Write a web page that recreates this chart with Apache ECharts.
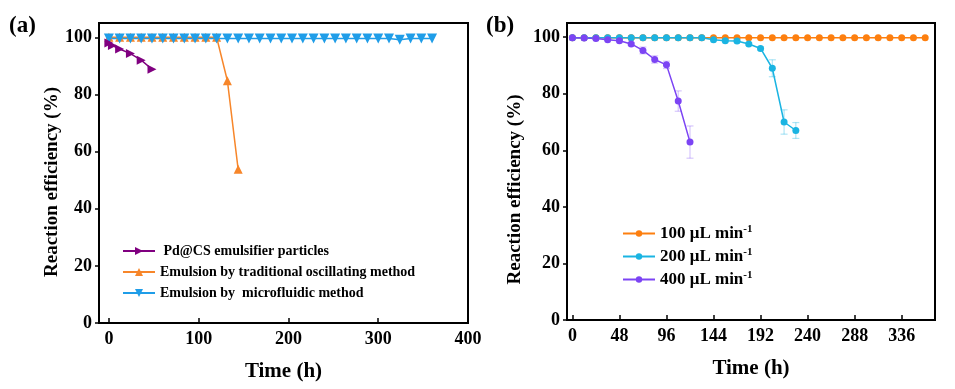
<!DOCTYPE html>
<html>
<head>
<meta charset="utf-8">
<script src="https://cdn.jsdelivr.net/npm/echarts@6/dist/echarts.min.js"></script>
<style>html,body{margin:0;padding:0;background:#fff}#c{width:955px;height:389px}</style>
</head>
<body>
<div id="c"></div>
<script>
// ---- Panel (a) data ----
const timePd = [0, 4, 12, 24, 36, 48];
const valPd = [98.0, 97.1, 95.9, 94.3, 92.0, 88.8];
const timeTrad = [0, 12, 24, 36, 48, 60, 72, 84, 96, 108, 120, 132, 144];
const valTrad = [100, 100, 100, 100, 100, 100, 100, 100, 100, 100, 100, 84.8, 53.8];
const timeMicro = [0, 12, 24, 36, 48, 60, 72, 84, 96, 108, 120, 132, 144, 156, 168, 180, 192, 204, 216, 228, 240, 252, 264, 276, 288, 300, 312, 324, 336, 348, 360];
const valMicro = [99.6, 99.6, 99.6, 99.6, 99.6, 99.6, 99.6, 99.6, 99.6, 99.6, 99.6, 99.6, 99.6, 99.6, 99.6, 99.6, 99.6, 99.6, 99.6, 99.6, 99.6, 99.6, 99.6, 99.6, 99.6, 99.6, 99.6, 99.1, 99.6, 99.6, 99.6];
const ticksA = [0, 100, 200, 300, 400];
// ---- Panel (b) data ----
const time100 = [0, 12, 24, 36, 48, 60, 72, 84, 96, 108, 120, 132, 144, 156, 168, 180, 192, 204, 216, 228, 240, 252, 264, 276, 288, 300, 312, 324, 336, 348, 360];
const val100 = [99.8, 99.8, 99.8, 99.8, 99.8, 99.8, 99.8, 99.8, 99.8, 99.8, 99.8, 99.8, 99.8, 99.8, 99.8, 99.8, 99.8, 99.8, 99.8, 99.8, 99.8, 99.8, 99.8, 99.8, 99.8, 99.8, 99.8, 99.8, 99.8, 99.8, 99.8];
const time200 = [0, 12, 24, 36, 48, 60, 72, 84, 96, 108, 120, 132, 144, 156, 168, 180, 192, 204, 216, 228];
const val200 = [99.8, 99.8, 99.8, 99.8, 99.8, 99.8, 99.8, 99.8, 99.8, 99.8, 99.8, 99.8, 99.1, 98.7, 98.6, 97.6, 96.0, 89.0, 70.0, 67.0];
const err200 = [0, 0, 0, 0, 0, 0, 0, 0, 0, 0, 0, 0, 0.3, 0.3, 0.3, 0.4, 0.6, 3.0, 4.3, 2.8];
const time400 = [0, 12, 24, 36, 48, 60, 72, 84, 96, 108, 120];
const val400 = [99.8, 99.7, 99.5, 99.1, 98.7, 97.6, 95.3, 92.1, 90.2, 77.4, 62.9];
const err400 = [0, 0, 0, 0.2, 0.3, 0.5, 1.2, 1.3, 1.3, 3.6, 5.7];
const ticksB = [0, 48, 96, 144, 192, 240, 288, 336];
const ticksY = [0, 20, 40, 60, 80, 100];

const F = 'Liberation Serif';
const zip = (a, b) => a.map((v, i) => [v, b[i]]);
const errData = (t, v, e) => t.map((x, i) => [x, v[i] - e[i], v[i] + e[i]]).filter((d, i) => e[i] > 0);

function xAxis(idx, min, max, ticks) {
  return {
    gridIndex: idx, type: 'value', min: min, max: max,
    name: 'Time (h)', nameLocation: 'middle', nameGap: 38,
    nameTextStyle: { fontFamily: F, fontWeight: 'bold', fontSize: 21, color: '#000' },
    axisLine: { show: true, onZero: false, lineStyle: { color: '#000', width: 2 } },
    axisTick: { show: true, inside: true, length: 5, customValues: ticks, lineStyle: { color: '#000', width: 1.5 } },
    axisLabel: { customValues: ticks, margin: 7, fontFamily: F, fontWeight: 'bold', fontSize: 18, color: '#000' },
    splitLine: { show: false }
  };
}
function yAxis(idx, gap, shift) {
  return {
    gridIndex: idx, type: 'value', min: 0, max: 105,
    name: 'Reaction efficiency (%)', nameLocation: 'middle', nameGap: gap, nameRotate: 90,
    nameTextStyle: { fontFamily: F, fontWeight: 'bold', fontSize: 19, color: '#000', padding: [0, shift, 0, 0] },
    axisLine: { show: true, onZero: false, lineStyle: { color: '#000', width: 2 } },
    axisTick: { show: true, inside: false, length: 4, customValues: ticksY, lineStyle: { color: '#000', width: 1.5 } },
    axisLabel: { customValues: ticksY, margin: 7, fontFamily: F, fontWeight: 'bold', fontSize: 18, color: '#000' },
    splitLine: { show: false }
  };
}
function errSeries(xi, data, color) {
  return {
    type: 'custom', xAxisIndex: xi, yAxisIndex: xi, z: 1, silent: true,
    data: data,
    renderItem: function (params, api) {
      const x = api.value(0);
      const lo = api.coord([x, api.value(1)]);
      const hi = api.coord([x, api.value(2)]);
      const w = 3.5;
      const st = { stroke: color, lineWidth: 1.2 };
      return { type: 'group', children: [
        { type: 'line', shape: { x1: lo[0], y1: lo[1], x2: hi[0], y2: hi[1] }, style: st },
        { type: 'line', shape: { x1: lo[0] - w, y1: lo[1], x2: lo[0] + w, y2: lo[1] }, style: st },
        { type: 'line', shape: { x1: hi[0] - w, y1: hi[1], x2: hi[0] + w, y2: hi[1] }, style: st }
      ] };
    }
  };
}
const cPd = '#800080', cTrad = '#f7862a', cMicro = '#1f9de8';
const c100 = '#fd7f0f', c200 = '#1ab4e2', c400 = '#7c44f4';

const lineStyleSeries = (name, xi, data, color, symbol, rot, size) => ({
  name: name, type: 'line', xAxisIndex: xi, yAxisIndex: xi, data: data,
  symbol: symbol, symbolRotate: rot, symbolSize: size, z: 3,
  lineStyle: { color: color, width: 1.5 }, itemStyle: { color: color }
});

const chart = echarts.init(document.getElementById('c'), null, { renderer: 'canvas' });
chart.setOption({
  animation: false,
  backgroundColor: '#fff',
  grid: [
    { left: 99, top: 23, width: 369, height: 300, show: true, borderColor: '#000', borderWidth: 2, backgroundColor: 'transparent' },
    { left: 567, top: 23, width: 368, height: 297, show: true, borderColor: '#000', borderWidth: 2, backgroundColor: 'transparent' }
  ],
  xAxis: [xAxis(0, -11, 400, ticksA), xAxis(1, -5.5, 370, ticksB)],
  yAxis: [yAxis(0, 36, 18), yAxis(1, 42, 36)],
  graphic: [
    { type: 'text', left: 9, top: 15, style: { text: '(a)', font: 'bold 23px "Liberation Serif"', fill: '#000' } },
    { type: 'text', left: 486, top: 15, style: { text: '(b)', font: 'bold 23px "Liberation Serif"', fill: '#000' } }
  ],
  legend: [
    {
      data: ['pd', 'trad', 'micro'], orient: 'vertical', left: 117, top: 239,
      itemWidth: 32, itemHeight: 10, itemGap: 7,
      formatter: n => ({ pd: ' Pd@CS emulsifier particles', trad: 'Emulsion by traditional oscillating method', micro: 'Emulsion by  microfluidic method' })[n],
      textStyle: { fontFamily: F, fontWeight: 'bold', fontSize: 14, color: '#000' }
    },
    {
      data: ['r100', 'r200', 'r400'], orient: 'vertical', left: 617, top: 219,
      itemWidth: 32, itemHeight: 8, itemGap: 5,
      formatter: n => '{a|' + ({ r100: '100', r200: '200', r400: '400' })[n] + ' μL min}{s|-1}',
      textStyle: {
        fontFamily: F, fontWeight: 'bold', fontSize: 17, color: '#000',
        rich: {
          a: { fontFamily: F, fontWeight: 'bold', fontSize: 17, color: '#000' },
          s: { fontFamily: F, fontWeight: 'bold', fontSize: 11, color: '#000', verticalAlign: 'top', padding: [0, 0, 8, 0] }
        }
      }
    }
  ],
  series: [
    lineStyleSeries('trad', 0, zip(timeTrad, valTrad), cTrad, 'triangle', 0, 9),
    lineStyleSeries('micro', 0, zip(timeMicro, valMicro), cMicro, 'triangle', 180, 10),
    lineStyleSeries('pd', 0, zip(timePd, valPd), cPd, 'triangle', -90, 9),
    errSeries(1, errData(time200, val200, err200), 'rgba(26,180,226,0.35)'),
    errSeries(1, errData(time400, val400, err400), 'rgba(124,68,244,0.3)'),
    lineStyleSeries('r100', 1, zip(time100, val100), c100, 'circle', 0, 7),
    lineStyleSeries('r200', 1, zip(time200, val200), c200, 'circle', 0, 7),
    lineStyleSeries('r400', 1, zip(time400, val400), c400, 'circle', 0, 7)
  ]
});
</script>
</body>
</html>
